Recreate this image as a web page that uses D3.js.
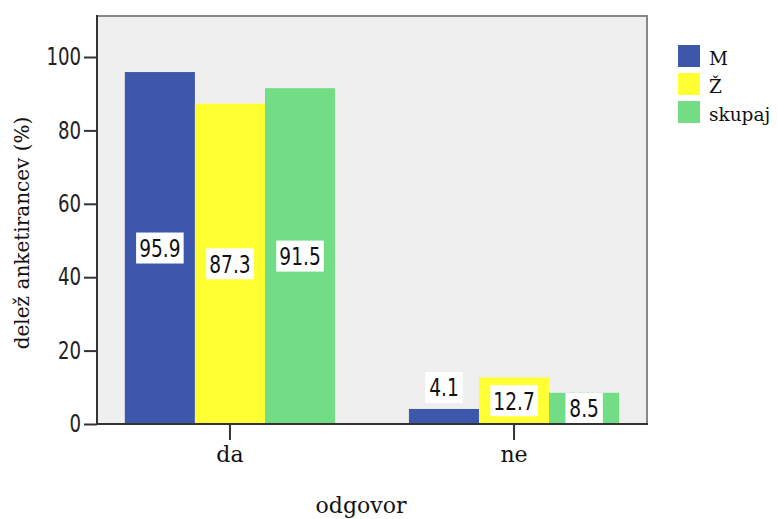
<!DOCTYPE html>
<html>
<head>
<meta charset="utf-8">
<script src="https://cdn.jsdelivr.net/npm/d3@7/dist/d3.min.js"></script>
<style>
  html, body { margin: 0; padding: 0; background: #ffffff; }
  svg { display: block; }
  .serif { font-family: "DejaVu Serif", serif; }
  .num { font-family: "Liberation Sans Narrow", "DejaVu Sans Condensed", "DejaVu Sans", sans-serif; }
</style>
</head>
<body>
<svg id="chart" width="777" height="519"></svg>
<script>
// Answers (x categories), groups and their shares in percent
const categories = ["da", "ne"];
const groups = ["M", "Ž", "skupaj"];
const valuesM = [95.9, 4.1];
const valuesZ = [87.3, 12.7];
const valuesSkupaj = [91.5, 8.5];
const yTicks = [0, 20, 40, 60, 80, 100];

const seriesValues = [valuesM, valuesZ, valuesSkupaj];
const colors = ["#3d58ab", "#ffff33", "#72dd84"];

const svg = d3.select("#chart");
const frame = { left: 97, right: 647, top: 16, bottom: 424 };

const x0 = d3.scaleBand()
  .domain(categories)
  .range([frame.left, frame.right])
  .paddingInner(0.26)
  .paddingOuter(0.098);

const x1 = d3.scaleBand()
  .domain(groups)
  .range([0, x0.bandwidth()]);

const y = d3.scaleLinear()
  .domain([0, 100])
  .range([frame.bottom, 57]);

const color = d3.scaleOrdinal().domain(groups).range(colors);

// Narrow text horizontally to a fraction of its natural width
function condense(sel, k) {
  sel.each(function() {
    const len = this.getComputedTextLength();
    d3.select(this)
      .attr("textLength", len * k)
      .attr("lengthAdjust", "spacingAndGlyphs");
  });
}

// Plot background
svg.append("rect")
  .attr("x", frame.left).attr("y", frame.top)
  .attr("width", frame.right - frame.left)
  .attr("height", frame.bottom - frame.top)
  .attr("fill", "#efefef");

// Bars
const rows = categories.map((c, i) => ({
  cat: c,
  items: groups.map((g, j) => ({ group: g, value: seriesValues[j][i] }))
}));

const gCat = svg.selectAll("g.cat")
  .data(rows)
  .join("g")
  .attr("class", "cat")
  .attr("transform", d => `translate(${x0(d.cat)},0)`);

gCat.selectAll("rect")
  .data(d => d.items)
  .join("rect")
  .attr("x", d => x1(d.group))
  .attr("y", d => y(d.value))
  .attr("width", x1.bandwidth())
  .attr("height", d => y(0) - y(d.value))
  .attr("fill", d => color(d.group));

// Frame: grey top/right, dark axes left/bottom
svg.append("path")
  .attr("d", `M${frame.left},${frame.top}H${frame.right}V${frame.bottom}`)
  .attr("fill", "none")
  .attr("stroke", "#888888")
  .attr("stroke-width", 2);

const fmt = d3.format(".1f");

// Value labels in white boxes
gCat.each(function(row) {
  const g = d3.select(this);
  row.items.forEach(d => {
    const cx = x1(d.group) + x1.bandwidth() / 2;
    const t = g.append("text")
      .attr("class", "num")
      .attr("x", cx)
      .attr("font-size", 24)
      .attr("fill", "#111")
      .attr("text-anchor", "middle")
      .attr("dominant-baseline", "central")
      .text(fmt(d.value));
    condense(t, 0.86);
    const w = t.node().getComputedTextLength() * 0.86 + 12;
    const h = 31;
    let cy = y(d.value / 2);
    if (y(0) - y(d.value) < h) cy = y(d.value) - 6 - h / 2;
    t.attr("y", cy + 1);
    g.insert("rect", () => t.node())
      .attr("x", cx - w / 2)
      .attr("y", cy - h / 2)
      .attr("width", w)
      .attr("height", h)
      .attr("fill", "#ffffff");
  });
});

// Y axis
const yAxis = svg.append("g")
  .attr("transform", `translate(${frame.left},0)`)
  .call(d3.axisLeft(y).tickValues(yTicks).tickSize(13).tickPadding(3).tickSizeOuter(0));
yAxis.attr("font-family", null).attr("font-size", null);
yAxis.select(".domain").remove();
yAxis.selectAll(".tick line").attr("stroke", "#333").attr("stroke-width", 2);
yAxis.selectAll(".tick text")
  .attr("class", "num")
  .attr("font-size", 24)
  .attr("fill", "#222")
  .call(condense, 0.84);
svg.append("line")
  .attr("x1", frame.left).attr("x2", frame.left)
  .attr("y1", frame.top - 1).attr("y2", frame.bottom + 1)
  .attr("stroke", "#333").attr("stroke-width", 2);

// X axis
const xAxis = svg.append("g")
  .attr("transform", `translate(0,${frame.bottom})`)
  .call(d3.axisBottom(x0).tickSize(16).tickPadding(6).tickSizeOuter(0));
xAxis.attr("font-family", null).attr("font-size", null);
xAxis.select(".domain").remove();
xAxis.selectAll(".tick line").attr("stroke", "#333").attr("stroke-width", 2);
xAxis.selectAll(".tick text")
  .attr("class", "serif")
  .attr("font-size", 22)
  .attr("fill", "#111");
svg.append("line")
  .attr("x1", frame.left - 1).attr("x2", frame.right + 1)
  .attr("y1", frame.bottom).attr("y2", frame.bottom)
  .attr("stroke", "#333").attr("stroke-width", 2);

// Axis titles
svg.append("text")
  .attr("class", "serif")
  .attr("x", (frame.left + frame.right) / 2 - 11)
  .attr("y", 513)
  .attr("text-anchor", "middle")
  .attr("font-size", 22)
  .attr("fill", "#111")
  .text("odgovor");

svg.append("text")
  .attr("class", "serif")
  .attr("transform", "translate(29,233) rotate(-90)")
  .attr("text-anchor", "middle")
  .attr("font-size", 20)
  .attr("fill", "#111")
  .text("delež anketirancev (%)");

// Legend
const legend = svg.append("g").attr("transform", "translate(678,45)");
const li = legend.selectAll("g")
  .data(groups)
  .join("g")
  .attr("transform", (d, i) => `translate(0,${i * 28})`);
li.append("rect")
  .attr("width", 22).attr("height", 22)
  .attr("fill", d => color(d));
li.append("text")
  .attr("class", "serif")
  .attr("x", 31).attr("y", 20)
  .attr("font-size", 18.5)
  .attr("fill", "#111")
  .text(d => d);
</script>
</body>
</html>
